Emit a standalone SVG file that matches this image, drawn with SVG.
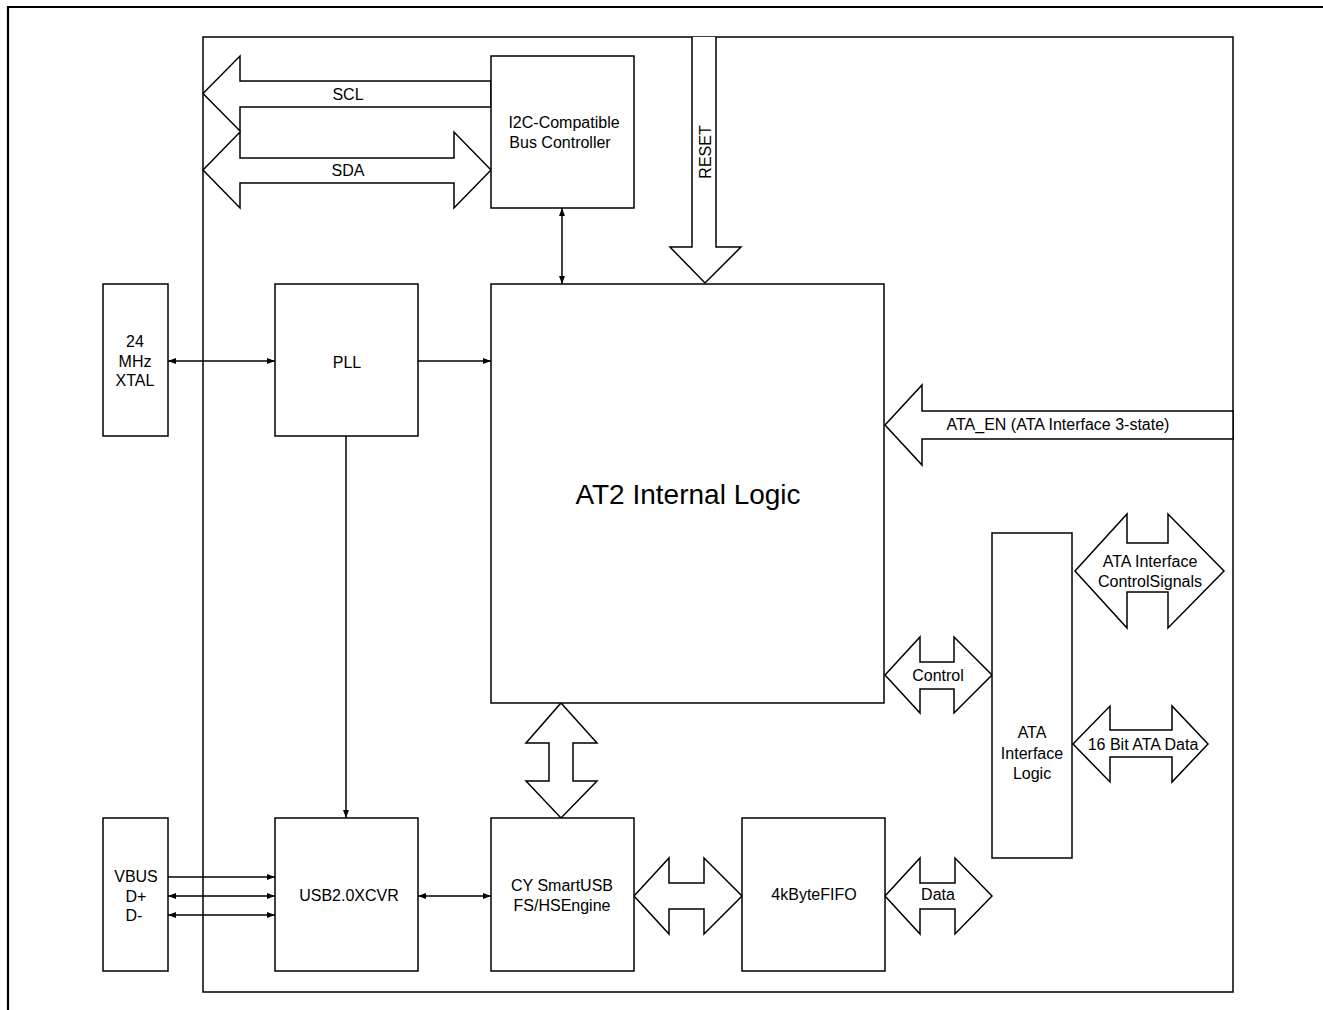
<svg xmlns="http://www.w3.org/2000/svg" width="1323" height="1010" viewBox="0 0 1323 1010">
<defs>
<marker id="ah" viewBox="0 0 8 6" refX="8" refY="3" markerWidth="8" markerHeight="6" markerUnits="userSpaceOnUse" orient="auto-start-reverse">
<path d="M0,0 L8,3 L0,6 z" fill="#000"/>
</marker>
<style>
.box{fill:#fff;stroke:#000;stroke-width:1.5}
.blk{fill:#fff;stroke:#000;stroke-width:1.5;stroke-linejoin:miter}
.ln{fill:none;stroke:#000;stroke-width:1.5}
.t{font-family:"Liberation Sans",Arial,sans-serif;font-size:16px;fill:#000;text-anchor:middle;dominant-baseline:central}
.big{font-size:28px}
</style>
</defs>
<rect width="1323" height="1010" fill="#fff"/>
<!-- outer frame -->
<path d="M8,1010 L8,7 L1323,7" fill="none" stroke="#000" stroke-width="2.2"/>
<!-- inner frame -->
<rect x="203" y="37" width="1030" height="955" fill="none" stroke="#000" stroke-width="1.5"/>

<g id="connectors">
<polygon class="blk" points="203,93.5 240,56 240,81 491,81 491,107 240,107 240,131"/>
<polygon class="blk" points="203,170 240,132 240,158 454,158 454,132 491,170 454,208 454,183 240,183 240,208"/>
<polyline class="blk" points="692,37 692,247 670,247 705,283 741,247 716,247 716,37"/>
<polygon class="blk" points="1233,411 922,411 922,385 885,425 922,465 922,439 1233,439"/>
<polygon class="blk" points="885,675 920,637 920,662 954,662 954,637 992,675 954,713 954,689 920,689 920,713"/>
<polygon class="blk" points="1075,571 1127,514 1127,543 1168,543 1168,514 1224,571 1168,628 1168,592 1127,592 1127,628"/>
<polygon class="blk" points="1073,744 1110,706 1110,730 1172,730 1172,706 1208,744 1172,782 1172,757 1110,757 1110,782"/>
<polygon class="blk" points="561,703 597,743 573,743 573,781 597,781 561,818 526,781 549,781 549,743 526,743"/>
<polygon class="blk" points="634,896 669,858 669,883 704,883 704,858 742,896 704,934 704,909 669,909 669,934"/>
<polygon class="blk" points="885,896 920,858 920,883 955,883 955,858 992,896 955,934 955,909 920,909 920,934"/>
<line class="ln" x1="562" y1="208" x2="562" y2="284" marker-start="url(#ah)" marker-end="url(#ah)"/>
<line class="ln" x1="168" y1="361" x2="275" y2="361" marker-start="url(#ah)" marker-end="url(#ah)"/>
<line class="ln" x1="418" y1="361" x2="491" y2="361" marker-end="url(#ah)"/>
<line class="ln" x1="346" y1="436" x2="346" y2="818" marker-end="url(#ah)"/>
<line class="ln" x1="168" y1="877" x2="275" y2="877" marker-end="url(#ah)"/>
<line class="ln" x1="168" y1="896" x2="275" y2="896" marker-start="url(#ah)" marker-end="url(#ah)"/>
<line class="ln" x1="168" y1="915" x2="275" y2="915" marker-start="url(#ah)" marker-end="url(#ah)"/>
<line class="ln" x1="418" y1="896" x2="491" y2="896" marker-start="url(#ah)" marker-end="url(#ah)"/>
<text class="t" x="348" y="94">SCL</text>
<text class="t" x="348" y="170">SDA</text>
<text class="t" transform="translate(705,152) rotate(-90)">RESET</text>
<text class="t" x="1058" y="424">ATA_EN (ATA Interface 3-state)</text>
<text class="t" x="938" y="675">Control</text>
<text class="t" x="1150" y="561">ATA Interface</text>
<text class="t" x="1150" y="581">ControlSignals</text>
<text class="t" x="1143" y="744">16 Bit ATA Data</text>
<text class="t" x="938" y="894">Data</text>
</g>

<g id="i2c">
<rect class="box" x="491" y="56" width="143" height="152"/>
<text class="t" x="564" y="122">I2C-Compatible</text>
<text class="t" x="560" y="142">Bus Controller</text>
</g>
<g id="xtal">
<rect class="box" x="103" y="284" width="65" height="152"/>
<text class="t" x="135" y="341">24</text>
<text class="t" x="135" y="361">MHz</text>
<text class="t" x="135" y="380">XTAL</text>
</g>
<g id="pll">
<rect class="box" x="275" y="284" width="143" height="152"/>
<text class="t" x="347" y="362">PLL</text>
</g>
<g id="at2">
<rect class="box" x="491" y="284" width="393" height="419"/>
<text class="t big" x="688" y="494">AT2 Internal Logic</text>
</g>
<g id="ata-logic">
<rect class="box" x="992" y="533" width="80" height="325"/>
<text class="t" x="1032" y="732">ATA</text>
<text class="t" x="1032" y="753">Interface</text>
<text class="t" x="1032" y="773">Logic</text>
</g>
<g id="vbus">
<rect class="box" x="103" y="818" width="65" height="153"/>
<text class="t" x="136" y="876">VBUS</text>
<text class="t" x="136" y="896">D+</text>
<text class="t" x="134" y="915">D-</text>
</g>
<g id="usb">
<rect class="box" x="275" y="818" width="143" height="153"/>
<text class="t" x="349" y="895">USB2.0XCVR</text>
</g>
<g id="cy">
<rect class="box" x="491" y="818" width="143" height="153"/>
<text class="t" x="562" y="885">CY SmartUSB</text>
<text class="t" x="562" y="905">FS/HSEngine</text>
</g>
<g id="fifo">
<rect class="box" x="742" y="818" width="143" height="153"/>
<text class="t" x="814" y="894">4kByteFIFO</text>
</g>
</svg>
